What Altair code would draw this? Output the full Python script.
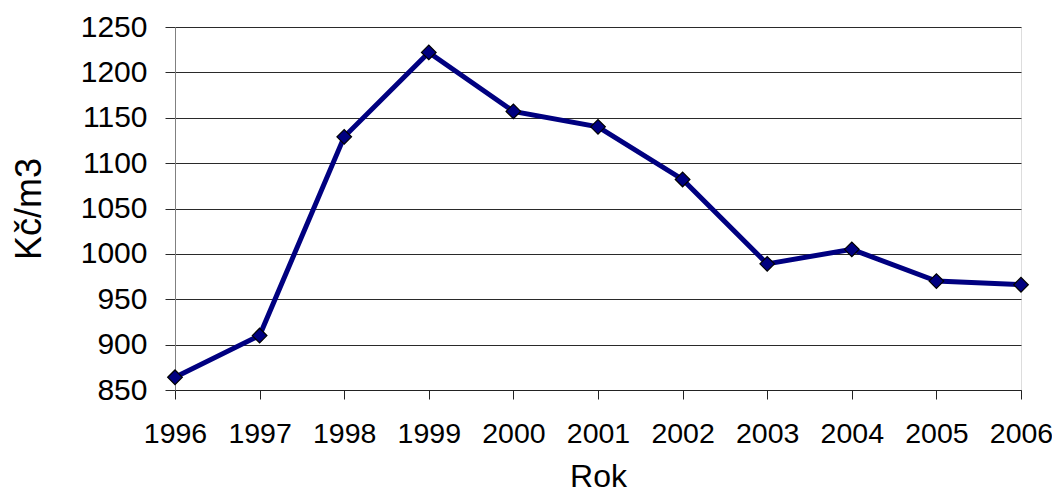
import altair as alt
import pandas as pd

years = [1996, 1997, 1998, 1999, 2000, 2001, 2002, 2003, 2004, 2005, 2006]
values = [864, 910, 1129, 1222, 1157, 1140, 1082, 989, 1005, 970, 966]
y_ticks = [850, 900, 950, 1000, 1050, 1100, 1150, 1200, 1250]

df = pd.DataFrame({"Rok": years, "Kc": values})

FONT = "Liberation Sans"

x = alt.X(
    "Rok:Q",
    scale=alt.Scale(domain=[years[0], years[-1]], nice=False, zero=False),
    axis=alt.Axis(
        title="Rok",
        values=years,
        format="d",
        grid=False,
        tickSize=9,
        tickColor="#222222",
        domainColor="#222222",
        labelPadding=20,
        labelFontSize=28.5,
        labelFont=FONT,
        labelColor="black",
        labelFlush=False,
        labelOverlap=False,
        titleFontSize=32,
        titleFont=FONT,
        titleFontWeight="normal",
        titleColor="black",
        titlePadding=14,
    ),
)
y = alt.Y(
    "Kc:Q",
    scale=alt.Scale(domain=[y_ticks[0], y_ticks[-1]], nice=False, zero=False),
    axis=alt.Axis(
        title="Kč/m3",
        values=y_ticks,
        format="d",
        grid=True,
        gridColor="#2a2a2a",
        gridWidth=1,
        gridOpacity=1,
        tickSize=10,
        tickColor="#2a2a2a",
        domainColor="#808080",
        labelPadding=18,
        labelFontSize=30,
        labelFont=FONT,
        labelColor="black",
        labelOverlap=False,
        titleFontSize=36,
        titleFont=FONT,
        titleFontWeight="normal",
        titleColor="black",
        titlePadding=32,
    ),
)

line = alt.Chart(df).mark_line(color="#000080", strokeWidth=5).encode(x=x, y=y)
pts = alt.Chart(df).mark_point(
    shape="diamond", filled=True, fill="#000080", stroke="black",
    strokeWidth=1.2, size=215, opacity=1
).encode(x=x, y=y)

chart = (
    alt.layer(line, pts)
    .properties(
        width=846,
        height=363,
        autosize=alt.AutoSizeParams(type="none"),
        padding={"left": 167, "top": 19, "right": 31, "bottom": 105},
    )
    .configure_view(stroke=None)
    .configure(background="white")
)

chart.save("out.html", embed_options={"renderer": "svg", "actions": False})
